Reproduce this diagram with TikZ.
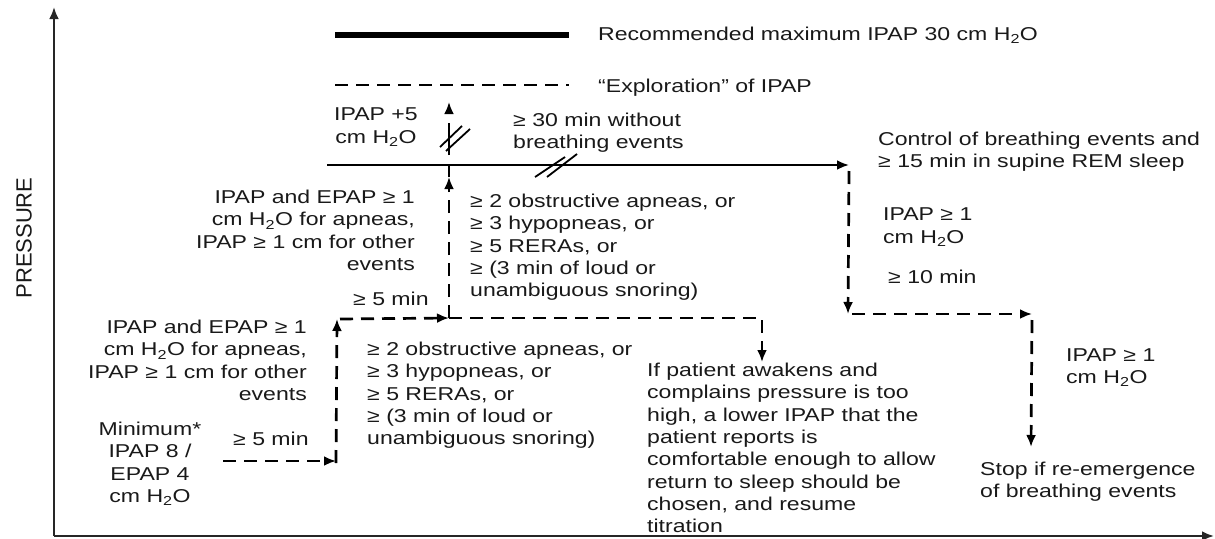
\documentclass[tikz,border=0pt]{standalone}
\usepackage{fontspec}
\setmainfont{Liberation Sans}[FakeStretch=1.24]
\newfontfamily\axisfont{Liberation Sans}
\usetikzlibrary{arrows.meta}
\newcommand{\water}{H\textsubscript{2}O}

\begin{document}
\begin{tikzpicture}[x=1pt,y=-1pt,
		every node/.style={inner sep=0pt,font=\fontsize{18.6}{22.3}\selectfont,text=black!90},
		stepline/.style={line width=2.7pt,dash pattern=on 13pt off 8pt},
		tip/.style={-{Latex[length=12pt,width=10pt]}},
		breakmark/.style={line width=1.8pt}]
			\useasboundingbox (0,0) rectangle (1215,538);
			% axes
			\coordinate (o) at (54,536);
			\coordinate (ytop) at (54,7);
			\coordinate (xend) at (1214,536);
			\draw[line width=2.4pt,black!85,tip] (o) -- (ytop);
			\draw[line width=2.4pt,black!85,tip] (o) -- (xend);
			\node[rotate=90,font=\axisfont\fontsize{22}{26}\selectfont] (pressure) at (24,238) {PRESSURE};
			% legend
			\coordinate (max0) at (335,35);
			\coordinate (max1) at (569,35);
			\coordinate (exp0) at (335,85);
			\coordinate (exp1) at (569,85);
			\draw[line width=6pt] (max0) -- (max1);
			\draw[stepline] (exp0) -- (exp1);
			\node[anchor=base west] (maxtext) at (598,40) {Recommended maximum IPAP 30 cm \water};
			\node[anchor=base west] (exptext) at (598,92) {“Exploration” of IPAP};
			% steps
			\coordinate (a0) at (223,461);
			\coordinate (a1) at (336,461);
			\coordinate (a2) at (337,319);
			\coordinate (a3) at (449,318);
			\coordinate (a4) at (762,318);
			\coordinate (a5) at (762,362);
			\coordinate (b0) at (449,165);
			\coordinate (b1) at (449,102);
			\coordinate (c0) at (327,165);
			\coordinate (c1) at (849,165);
			\coordinate (c2) at (848,314);
			\coordinate (c3) at (1032,314);
			\coordinate (c4) at (1031,447);
			\draw[stepline,tip] (a0) -- (a1);
			\draw[stepline,tip] ([yshift=-2pt]a1) -- (a2);
			\draw[stepline,tip] ([xshift=3pt]a2) -- (a3);
			\draw[stepline,tip] (a3) -- (a4) -- (a5);
			\draw[stepline,tip] (a3) -- ([yshift=-12pt]b0);
			\draw[line width=2.7pt] ([yshift=-12pt]b0) -- (b0);
			\draw[line width=2.7pt,dash pattern=on 32pt off 30pt,dash phase=52pt,tip] (b0) -- (b1);
			\draw[breakmark] (440,147) -- (462,126);
			\draw[breakmark] (446,151) -- (470,129);
			\draw[line width=2.4pt,tip] (c0) -- (c1);
			\draw[breakmark] (535,177) -- (565,157);
			\draw[breakmark] (547,177) -- (577,154);
			\draw[stepline,tip] ([yshift=-6pt]c1) -- (c2);
			\draw[stepline,tip] ([xshift=4pt]c2) -- (c3);
			\draw[stepline,tip] ([yshift=-6pt]c3) -- (c4);
			% labels
			\node[anchor=north,align=center] (plusfive) at (376,108) {IPAP +5\\cm \water};
			\node[anchor=north west,align=left] (nofree) at (513,113) {≥ 30 min without\\breathing events};
			\node[anchor=north east,align=right] (upperinc) at (415,190) {IPAP and EPAP ≥ 1\\cm \water{} for apneas,\\IPAP ≥ 1 cm for other\\events};
			\node[anchor=base west] (upperfive) at (353,305) {≥ 5 min};
			\node[anchor=north west,align=left] (uppercrit) at (470,194) {≥ 2 obstructive apneas, or\\≥ 3 hypopneas, or\\≥ 5 RERAs, or\\≥ (3 min of loud or\\unambiguous snoring)};
			\node[anchor=north east,align=right] (lowerinc) at (307,320) {IPAP and EPAP ≥ 1\\cm \water{} for apneas,\\IPAP ≥ 1 cm for other\\events};
			\node[anchor=north,align=center] (minimum) at (150,422) {Minimum*\\IPAP 8 /\\EPAP 4\\cm \water};
			\node[anchor=base west] (lowerfive) at (233,445) {≥ 5 min};
			\node[anchor=north west,align=left] (lowercrit) at (367,342) {≥ 2 obstructive apneas, or\\≥ 3 hypopneas, or\\≥ 5 RERAs, or\\≥ (3 min of loud or\\unambiguous snoring)};
			\node[anchor=north west,align=left] (awake) at (647,363) {If patient awakens and\\complains pressure is too\\high, a lower IPAP that the\\patient reports is\\comfortable enough to allow\\return to sleep should be\\chosen, and resume\\titration};
			\node[anchor=north west,align=left] (control) at (878,132) {Control of breathing events and\\≥ 15 min in supine REM sleep};
			\node[anchor=north west,align=left] (downone) at (883,208) {IPAP ≥ 1\\cm \water};
			\node[anchor=base west] (tenmin) at (888,283) {≥ 10 min};
			\node[anchor=north west,align=left] (downtwo) at (1066,348) {IPAP ≥ 1\\cm \water};
			\node[anchor=north west,align=left] (stop) at (980,462) {Stop if re-emergence\\of breathing events};
		\end{tikzpicture}
\end{document}
